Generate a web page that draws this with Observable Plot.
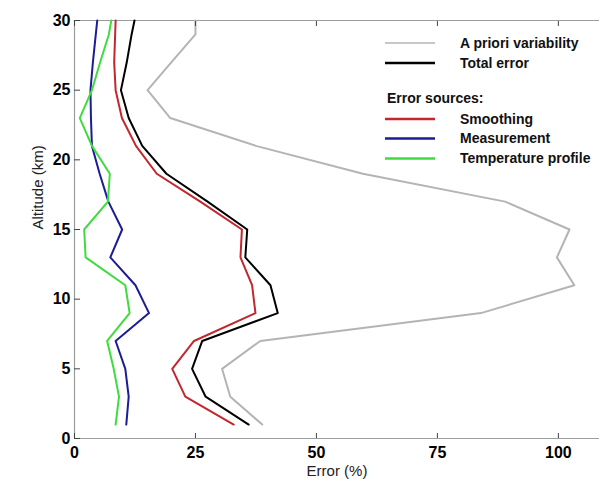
<!DOCTYPE html>
<html><head><meta charset="utf-8">
<script src="https://cdn.jsdelivr.net/npm/d3@7"></script>
<script src="https://cdn.jsdelivr.net/npm/@observablehq/plot@0.6"></script>
<style>body{margin:0;background:#fff;} #chart{position:relative;width:599px;height:481px;}</style>
</head><body><div id="chart"></div>
<script>
const altitude    = [1, 3, 5, 7, 9, 11, 13, 15, 17, 19, 21, 23, 25, 27, 29, 30];
const apriori     = [38.8, 32.2, 30.5, 38.4, 84, 103.3, 99.7, 102.3, 89, 59.6, 37.5, 19.8, 15.1, 20, 25, 25];
const total       = [36, 27.1, 24.3, 26.4, 42, 40.5, 35.3, 35.7, 27.5, 19, 14, 11.2, 9.6, 10.8, 11.8, 12.4];
const smoothing   = [32.9, 22.9, 20.2, 24.7, 37.4, 36.7, 34.3, 34.6, 26, 17, 12.7, 9.8, 8.5, 8.2, 8.4, 8.5];
const measurement = [10.7, 11.2, 10.5, 8.5, 15.4, 12.6, 7.4, 9.85, 7.0, 5.2, 3.6, 3.4, 3.3, 3.8, 4.4, 4.7];
const temperature = [8.5, 9.2, 8.1, 6.75, 11.4, 10.5, 2.3, 2.0, 6.9, 7.3, 3.6, 1.1, 3.6, 5.3, 7.1, 7.6];

const xTicks = [0, 25, 50, 75, 100];
const yTicks = [0, 5, 10, 15, 20, 25, 30];

const seriesNames  = ["A priori variability", "Total error", "Smoothing", "Measurement", "Temperature profile"];
const seriesValues = [apriori, total, smoothing, measurement, temperature];
const seriesColors = ["#b4b4b4", "#000000", "#c1272d", "#1c1c96", "#3fdc3f"];

const rows = seriesNames.flatMap((name, s) =>
  altitude.map((a, i) => ({series: name, alt: a, err: seriesValues[s][i]})));

const font = "'Liberation Sans', Arial, sans-serif";
const axisColor = "#9c9c9c";

const plot = Plot.plot({
  width: 599, height: 481,
  marginLeft: 74, marginRight: 0, marginTop: 20, marginBottom: 43,
  x: {domain: [0, 108.5]},
  y: {domain: [0, 30]},
  color: {domain: seriesNames, range: seriesColors},
  style: {fontFamily: font, background: "#fff", color: "#000"},
  marks: [
    Plot.ruleY([0, 30], {stroke: axisColor, strokeWidth: 1.2}),
    Plot.ruleX([0], {stroke: axisColor, strokeWidth: 1.2}),
    Plot.line(rows, {x: "err", y: "alt", z: "series", stroke: "series", strokeWidth: 2, curve: "linear"}),
    Plot.axisX({ticks: xTicks, tickSize: 0, tickPadding: 8, label: null, fontSize: 16, fontWeight: "bold", tickFormat: d => d}),
    Plot.axisX({ticks: xTicks, anchor: "bottom", text: null, tickSize: 5, dy: -5, label: null, stroke: "#444"}),
    Plot.axisX({ticks: xTicks, anchor: "top", text: null, tickSize: 5, dy: 5, label: null, stroke: "#444"}),
    Plot.axisY({ticks: yTicks, tickSize: 0, tickPadding: 4, label: null, fontSize: 16, fontWeight: "bold", tickFormat: d => d}),
    Plot.axisY({ticks: yTicks, anchor: "left", text: null, tickSize: 6, dx: 6, label: null, stroke: "#444"}),
    Plot.text(["Error (%)"], {frameAnchor: "bottom", dy: 37, fontSize: 15, fill: "#222"}),
    Plot.text(["Altitude (km)"], {frameAnchor: "left", dx: -36, rotate: -90, fontSize: 15, fill: "#222"})
  ]
});
document.getElementById("chart").appendChild(plot);

// legend (inside the plot, upper right)
const svg = d3.select(plot);
const lg = svg.append("g").attr("font-family", font).attr("font-size", 14).attr("font-weight", "bold")
  .attr("fill", "#111").attr("text-anchor", "start");
const legendRows = [
  {i: 0, y: 43}, {i: 1, y: 63}, {i: 2, y: 119}, {i: 3, y: 138.5}, {i: 4, y: 158.5}
];
legendRows.forEach(r => {
  lg.append("line").attr("x1", 385).attr("x2", 435).attr("y1", r.y).attr("y2", r.y)
    .attr("stroke", seriesColors[r.i]).attr("stroke-width", r.i === 0 ? 1.5 : 2.5);
  lg.append("text").attr("x", 460).attr("y", r.y).attr("dy", "0.35em").attr("text-anchor", "start").text(seriesNames[r.i]);
});
lg.append("text").attr("x", 387).attr("y", 98.5).attr("dy", "0.35em").attr("text-anchor", "start").text("Error sources:");
</script>
</body></html>
